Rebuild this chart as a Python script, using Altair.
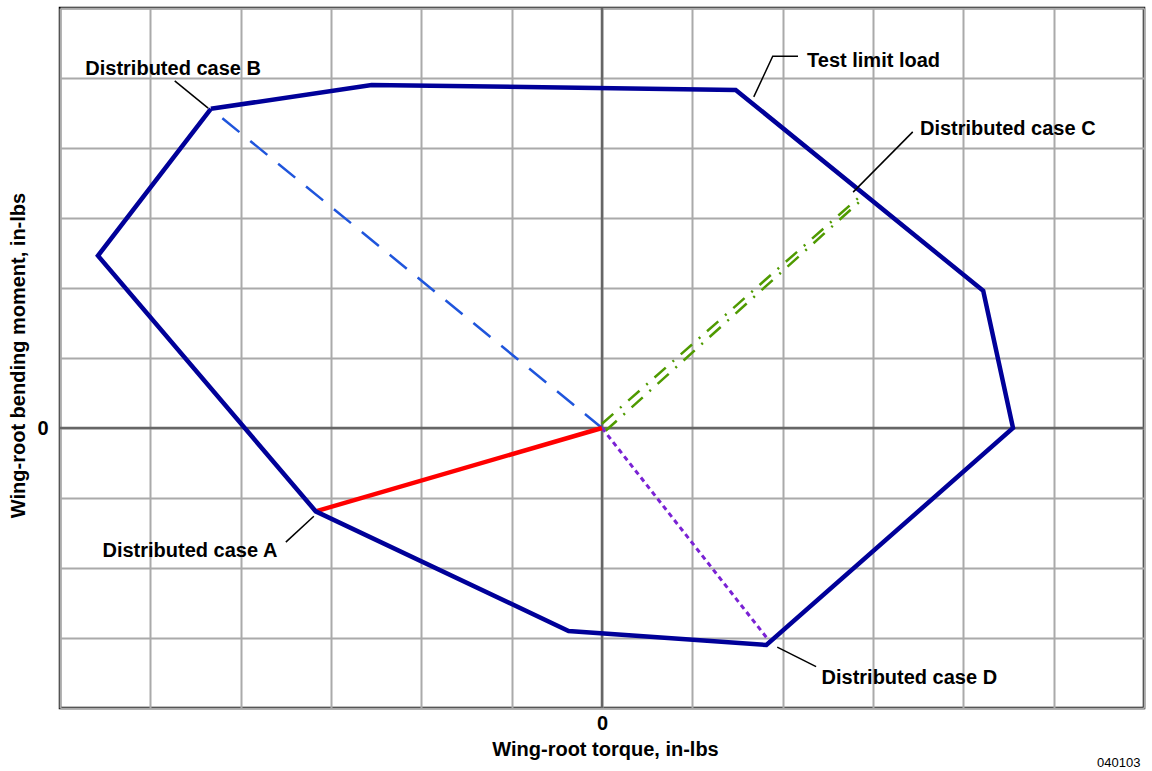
import altair as alt
import pandas as pd

# Test limit load envelope (torque, bending moment), in grid units
env_x = [-4.33, -2.55, 1.48, 4.22, 4.55, 1.82, -0.37, -3.17, -5.58, -4.33]
env_y = [4.56, 4.90, 4.83, 1.96, 0.00, -3.10, -2.90, -1.19, 2.46, 4.56]

# Distributed load cases, each running out from the origin
case_a = {"x": [0.0, -3.17], "y": [0.0, -1.19]}
case_b = {"x": [0.0, -4.33], "y": [0.0, 4.56]}
case_c1 = {"x": [0.0, 2.84], "y": [0.06, 3.29]}
case_c2 = {"x": [0.04, 2.90], "y": [-0.04, 3.29]}
case_d = {"x": [0.0, 1.85], "y": [0.0, -3.04]}

# Callout labels and their leader lines
label_text = ["Distributed case B", "Test limit load", "Distributed case C",
              "Distributed case A", "Distributed case D"]
label_x = [-5.72, 2.27, 3.52, -5.53, 2.43]
label_y = [5.13, 5.24, 4.27, -1.75, -3.57]

leader_id = ["B", "B", "T", "T", "T", "C", "C", "A", "A", "D", "D"]
leader_x = [-4.73, -4.36, 1.68, 1.89, 2.17, 2.78, 3.44, -3.50, -3.19, 1.94, 2.37]
leader_y = [4.96, 4.57, 4.73, 5.31, 5.31, 3.37, 4.23, -1.63, -1.26, -3.13, -3.41]

grid_vals = list(range(-6, 7))
grid_vals_y = list(range(-4, 7))

FONT = "Liberation Sans"
FS = 20

xs = alt.Scale(domain=[-6, 6], nice=False, zero=False)
ys = alt.Scale(domain=[-4, 6], nice=False, zero=False)

x_axis = alt.Axis(
    values=grid_vals, grid=True, gridColor="#aaaaaa", gridWidth=2,
    ticks=False, domain=False,
    labelExpr="datum.value == 0 ? '0' : ''",
    labelFont=FONT, labelFontWeight="bold", labelFontSize=FS,
    labelColor="black", labelPadding=5,
    title="Wing-root torque, in-lbs", titleFont=FONT, titleFontWeight="bold",
    titleFontSize=FS, titleColor="black", titleX=545, titleY=41,
    titleBaseline="middle",
)
y_axis = alt.Axis(
    values=grid_vals_y, grid=True, gridColor="#aaaaaa", gridWidth=2,
    ticks=False, domain=False,
    labelExpr="datum.value == 0 ? '0' : ''",
    labelFont=FONT, labelFontWeight="bold", labelFontSize=FS,
    labelColor="black", labelPadding=12,
    title="Wing-root bending moment, in-lbs", titleFont=FONT,
    titleFontWeight="bold", titleFontSize=FS, titleColor="black",
    titleX=-42, titleY=347, titleAngle=-90, titleBaseline="middle",
)


def seg_df(d):
    return pd.DataFrame({"x": d["x"], "y": d["y"], "i": range(len(d["x"]))})


# Grid carrier with axes
base = alt.Chart(pd.DataFrame({"x": [0], "y": [0]})).mark_point(opacity=0).encode(
    x=alt.X("x:Q", scale=xs, axis=x_axis),
    y=alt.Y("y:Q", scale=ys, axis=y_axis),
)

zero_v = alt.Chart(pd.DataFrame({"x": [0]})).mark_rule(
    color="#666666", strokeWidth=2.5).encode(x=alt.X("x:Q", scale=xs))
zero_h = alt.Chart(pd.DataFrame({"y": [0]})).mark_rule(
    color="#666666", strokeWidth=2.5).encode(y=alt.Y("y:Q", scale=ys))


def case_line(d, color, width, dash=None):
    kw = dict(color=color, strokeWidth=width, strokeCap="butt")
    if dash:
        kw["strokeDash"] = dash
    return alt.Chart(seg_df(d)).mark_line(**kw).encode(
        x=alt.X("x:Q", scale=xs), y=alt.Y("y:Q", scale=ys), order="i:Q")


line_b = case_line(case_b, "#1f55dc", 2.5, [22, 14])
line_c1 = case_line(case_c1, "#4f9a00", 2.5, [15, 9, 2, 9])
line_c2 = case_line(case_c2, "#4f9a00", 2.5, [15, 9, 2, 9])
line_d = case_line(case_d, "#7a22d4", 3, [5, 4])
line_a = case_line(case_a, "#ff0000", 4.5)

envelope = alt.Chart(seg_df({"x": env_x, "y": env_y})).mark_line(
    color="#000099", strokeWidth=4.5, strokeJoin="miter").encode(
    x=alt.X("x:Q", scale=xs), y=alt.Y("y:Q", scale=ys), order="i:Q")

leaders = alt.Chart(pd.DataFrame({
    "id": leader_id, "x": leader_x, "y": leader_y,
    "i": range(len(leader_x))})).mark_line(color="black", strokeWidth=1.5).encode(
    x=alt.X("x:Q", scale=xs), y=alt.Y("y:Q", scale=ys),
    detail="id:N", order="i:Q")

labels = alt.Chart(pd.DataFrame({
    "t": label_text, "x": label_x, "y": label_y})).mark_text(
    font=FONT, fontWeight="bold", fontSize=FS, color="black",
    align="left", baseline="middle").encode(
    x=alt.X("x:Q", scale=xs), y=alt.Y("y:Q", scale=ys), text="t:N")

stamp = alt.Chart(pd.DataFrame({"t": ["040103"], "x": [5.72], "y": [-4.79]})).mark_text(
    font=FONT, fontSize=13, color="black", align="center", baseline="middle",
    clip=False).encode(
    x=alt.X("x:Q", scale=xs), y=alt.Y("y:Q", scale=ys), text="t:N")

chart = alt.layer(
    base, zero_v, zero_h, line_b, line_c1, line_c2, line_d, line_a,
    envelope, leaders, labels, stamp,
).properties(
    width=1084, height=700,
    autosize=alt.AutoSizeParams(type="none"),
    padding={"left": 60, "top": 8, "right": 8, "bottom": 63},
    background="white",
).configure_view(stroke="black", strokeWidth=2.5)

chart.save("out.html", embed_options={"renderer": "svg", "actions": False})
